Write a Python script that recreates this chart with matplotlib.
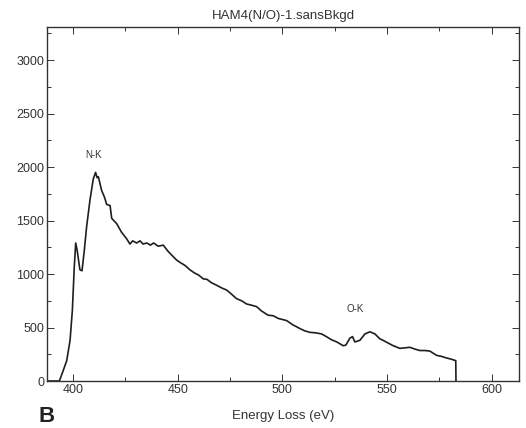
import matplotlib.pyplot as plt
from matplotlib.ticker import MultipleLocator

# Espectro EELS (energia em eV, contagens)
energy = [387.6, 393.5, 395.1, 397.0, 398.6, 399.7, 400.6, 401.3, 402.0, 403.3,
          404.3, 405.4, 406.5, 408.1, 409.7, 410.8, 411.5, 412.1, 413.7, 415.0,
          416.1, 417.7, 418.5, 420.9, 423.2, 425.6, 427.2, 428.5, 430.4, 432.0,
          433.5, 435.2, 437.0, 438.5, 440.7, 443.1, 445.5, 447.5, 449.5, 451.0,
          453.5, 455.8, 458.0, 460.0, 462.2, 464.0, 466.0, 468.6, 471.0, 473.4,
          475.5, 478.1, 480.5, 482.9, 485.0, 487.7, 490.0, 493.2, 495.6, 498.0,
          500.0, 502.0, 505.0, 508.4, 510.5, 513.1, 516.0, 518.7, 521.0, 523.5,
          526.0, 529.0, 530.3, 532.2, 533.5, 534.6, 537.0, 539.4, 541.8, 544.2,
          546.5, 548.1, 550.5, 552.9, 556.1, 558.5, 560.9, 563.0, 565.6, 568.0,
          570.4, 573.6, 576.0, 578.4, 580.5, 582.8, 582.9]
counts = [0, 0, 85, 190, 380, 660, 1060, 1290, 1220, 1040,
          1030, 1220, 1440, 1690, 1890, 1950, 1900, 1910, 1780, 1720,
          1650, 1640, 1520, 1470, 1390, 1330, 1280, 1310, 1290, 1310,
          1280, 1290, 1270, 1290, 1260, 1270, 1210, 1170, 1130, 1110,
          1080, 1040, 1010, 990, 955, 950, 920, 895, 870, 850,
          815, 770, 750, 720, 710, 695, 655, 615, 610, 585,
          575, 565, 525, 490, 470, 455, 450, 440, 415, 385,
          365, 330, 335, 400, 415, 365, 380, 440, 460, 440,
          395, 380, 355, 330, 305, 310, 315, 300, 285, 285,
          280, 240, 230, 215, 205, 190, 0]

edge_labels = ['N-K', 'O-K']
edge_pos = [(410.0, 2110), (534.6, 670)]

plt.rcParams['font.family'] = ['Liberation Sans', 'DejaVu Sans']

fig = plt.figure(figsize=(5.26, 4.28), dpi=100)
ax = fig.add_axes([0.0894, 0.1098, 0.8973, 0.8264])

ax.plot(energy, counts, color='#1e1e1e', linewidth=1.2)

ax.set_xlim(387.6, 613)
ax.set_ylim(0, 3306)
ax.xaxis.set_major_locator(MultipleLocator(50))
ax.xaxis.set_minor_locator(MultipleLocator(25))
ax.yaxis.set_major_locator(MultipleLocator(500))
ax.yaxis.set_minor_locator(MultipleLocator(250))
ax.tick_params(which='both', direction='in', top=True, right=True,
               labelsize=9, colors='#333333', width=0.7)
ax.tick_params(which='major', length=5, pad=2)
ax.tick_params(which='minor', length=3)
for s in ax.spines.values():
    s.set_linewidth(1.0)
    s.set_color('#333333')

ax.set_title('HAM4(N/O)-1.sansBkgd', fontsize=9.5, color='#333333', pad=6)
ax.set_xlabel('Energy Loss (eV)', fontsize=9.5, color='#333333', labelpad=10)

for lab, (x, y) in zip(edge_labels, edge_pos):
    ax.text(x, y, lab, fontsize=7, color='#333333', ha='center', va='center')

fig.text(0.074, 0.003, 'B', fontsize=16, weight='bold', color='#222222',
         ha='left', va='bottom')

fig.savefig('out.png', dpi=100)
